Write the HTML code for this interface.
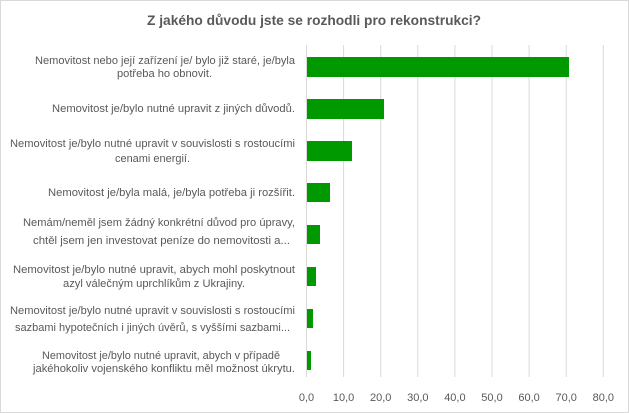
<!DOCTYPE html>
<html><head><meta charset="utf-8"><style>body{margin:0;background:#fff}svg{display:block}</style></head>
<body>
<svg width="629" height="413" xmlns="http://www.w3.org/2000/svg" font-family="'Liberation Sans', sans-serif">
<rect x="0.5" y="0.5" width="628" height="412" fill="#fff" stroke="#d9d9d9"/>
<text x="147" y="25" font-size="14" font-weight="bold" fill="#595959" textLength="334" lengthAdjust="spacingAndGlyphs">Z jakého důvodu jste se rozhodli pro rekonstrukci?</text>
<g stroke="#d9d9d9" stroke-width="1">
<line x1="306.5" y1="45" x2="306.5" y2="377"/><line x1="343.6" y1="45" x2="343.6" y2="377"/><line x1="380.7" y1="45" x2="380.7" y2="377"/><line x1="417.8" y1="45" x2="417.8" y2="377"/><line x1="454.9" y1="45" x2="454.9" y2="377"/><line x1="492" y1="45" x2="492" y2="377"/><line x1="529.1" y1="45" x2="529.1" y2="377"/><line x1="566.2" y1="45" x2="566.2" y2="377"/><line x1="603.3" y1="45" x2="603.3" y2="377"/>
</g>
<g fill="#009900">
<rect x="307" y="57" width="262" height="20"/>
<rect x="307" y="99" width="77" height="20"/>
<rect x="307" y="141" width="45" height="20"/>
<rect x="307" y="183" width="23" height="19"/>
<rect x="307" y="225" width="13" height="19"/>
<rect x="307" y="267" width="9" height="19"/>
<rect x="307" y="309" width="6" height="19"/>
<rect x="307" y="351" width="4" height="19"/>
</g>
<g font-size="11" fill="#595959" lengthAdjust="spacingAndGlyphs">
<text x="35" y="64" textLength="260" lengthAdjust="spacingAndGlyphs">Nemovitost nebo její zařízení je/ bylo již staré, je/byla</text>
<text x="117" y="77" textLength="95" lengthAdjust="spacingAndGlyphs">potřeba ho obnovit.</text>
<text x="52" y="112" textLength="243" lengthAdjust="spacingAndGlyphs">Nemovitost je/bylo nutné upravit z jiných důvodů.</text>
<text x="10" y="147" textLength="285" lengthAdjust="spacingAndGlyphs">Nemovitost je/bylo nutné upravit v souvislosti s rostoucími</text>
<text x="115" y="162" textLength="75" lengthAdjust="spacingAndGlyphs">cenami energií.</text>
<text x="48" y="196" textLength="247" lengthAdjust="spacingAndGlyphs">Nemovitost je/byla malá, je/byla potřeba ji rozšířit.</text>
<text x="23" y="226" textLength="272" lengthAdjust="spacingAndGlyphs">Nemám/neměl jsem žádný konkrétní důvod pro úpravy,</text>
<text x="33" y="244" textLength="257" lengthAdjust="spacingAndGlyphs">chtěl jsem jen investovat peníze do nemovitosti a...</text>
<text x="13" y="273" textLength="282" lengthAdjust="spacingAndGlyphs">Nemovitost je/bylo nutné upravit, abych mohl poskytnout</text>
<text x="63" y="287" textLength="182" lengthAdjust="spacingAndGlyphs">azyl válečným uprchlíkům z Ukrajiny.</text>
<text x="10" y="314" textLength="285" lengthAdjust="spacingAndGlyphs">Nemovitost je/bylo nutné upravit v souvislosti s rostoucími</text>
<text x="15" y="331" textLength="275" lengthAdjust="spacingAndGlyphs">sazbami hypotečních i jiných úvěrů, s vyššími sazbami...</text>
<text x="42" y="359" textLength="238" lengthAdjust="spacingAndGlyphs">Nemovitost je/bylo nutné upravit, abych v případě</text>
<text x="33" y="372" textLength="262" lengthAdjust="spacingAndGlyphs">jakéhokoliv vojenského konfliktu měl možnost úkrytu.</text>
</g>
<g font-size="11" fill="#595959" text-anchor="middle">
<text x="306.5" y="401">0,0</text><text x="343.6" y="401">10,0</text><text x="380.7" y="401">20,0</text><text x="417.8" y="401">30,0</text><text x="454.9" y="401">40,0</text><text x="492" y="401">50,0</text><text x="529.1" y="401">60,0</text><text x="566.2" y="401">70,0</text><text x="603.3" y="401">80,0</text>
</g>
</svg>
</body></html>
